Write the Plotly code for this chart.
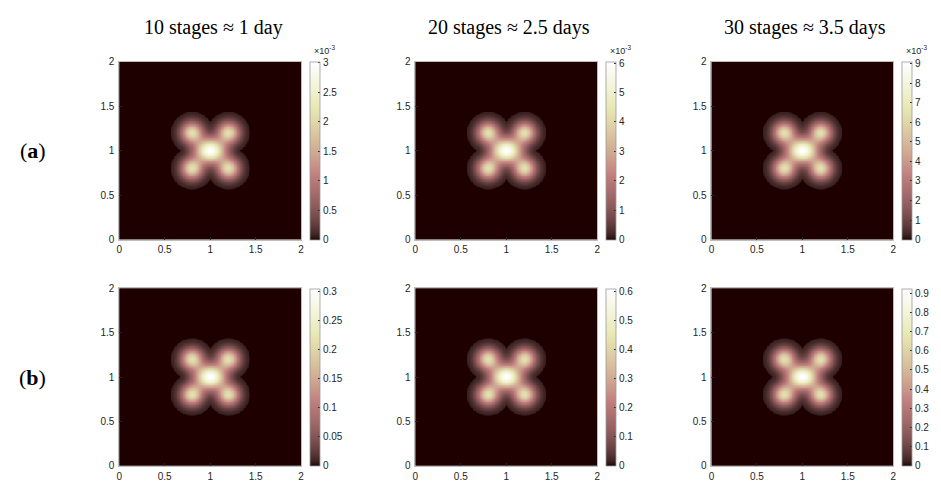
import numpy as np
import plotly.graph_objects as go

# ---------------- data ----------------
titles = ["10 stages \u2248 1 day", "20 stages \u2248 2.5 days", "30 stages \u2248 3.5 days"]
row_labels = ["(<b>a</b>)", "(<b>b</b>)"]
peak_a = [3.02e-3, 6.05e-3, 9.1e-3]
peak_b = [0.305, 0.61, 0.925]
cbar_ticks_a = [[0, 0.5, 1, 1.5, 2, 2.5, 3],
                [0, 1, 2, 3, 4, 5, 6],
                [0, 1, 2, 3, 4, 5, 6, 7, 8, 9]]           # x 10^-3
cbar_ticks_b = [[0, 0.05, 0.1, 0.15, 0.2, 0.25, 0.3],
                [0, 0.1, 0.2, 0.3, 0.4, 0.5, 0.6],
                [0, 0.1, 0.2, 0.3, 0.4, 0.5, 0.6, 0.7, 0.8, 0.9]]
axis_ticks = [0, 0.5, 1, 1.5, 2]
axis_ticktext = ["0", "0.5", "1", "1.5", "2"]
lobe_x = [0.8, 1.2, 0.8, 1.2]
lobe_y = [0.8, 0.8, 1.2, 1.2]
lobe_amp = 0.70
lobe_width = 0.08
lobe_radius = 0.24
core_x, core_y = 1.0, 1.0
core_amp = 1.0
core_wx, core_wy = 0.13, 0.10
core_radius = 0.30
rim_level = 0.012

# ---------------- field on [0,2]^2 ----------------
N = 241
gx = np.linspace(0, 2, N)
gy = np.linspace(0, 2, N)
X, Y = np.meshgrid(gx, gy)
rc = np.hypot(X - core_x, Y - core_y)
inner = core_amp * np.exp(-((X - core_x) ** 2 / (2 * core_wx ** 2) + (Y - core_y) ** 2 / (2 * core_wy ** 2))) \
        * np.clip(1 - (rc / core_radius) ** 2, 0, None)
dist = rc - core_radius
for lx, ly in zip(lobe_x, lobe_y):
    r = np.hypot(X - lx, Y - ly)
    inner = inner + lobe_amp * np.exp(-r ** 2 / (2 * lobe_width ** 2))
    dist = np.minimum(dist, r - lobe_radius)
edge = np.clip(-dist / 0.012, 0, 1)
base = (inner + rim_level) * edge
base = base / base.max()

# ---------------- MATLAB "pink" colormap ----------------
m = 64
n = int(3 / 8 * m)
hr = np.r_[np.arange(1, n + 1) / n, np.ones(m - n)]
hg = np.r_[np.zeros(n), np.arange(1, n + 1) / n, np.ones(m - 2 * n)]
hb = np.r_[np.zeros(2 * n), np.arange(1, m - 2 * n + 1) / (m - 2 * n)]
gray = np.arange(m) / (m - 1)
pink = np.sqrt((2 * gray[:, None] + np.c_[hr, hg, hb]) / 3)
colorscale = [[i / (m - 1), "rgb(%d,%d,%d)" % tuple(np.round(pink[i] * 255))] for i in range(m)]

# ---------------- layout geometry ----------------
W, H = 941, 485
col_px = [(117, 300), (415, 598), (713, 896)]
row_px = [(57, 239.5), (289.5, 471.5)]
cbar_x_px = [309, 607, 905]

fig = go.Figure()
tick_font = dict(family="Liberation Sans, Arial, sans-serif", size=10, color="#262626")

k = 0
for ri, (peaks, cticks) in enumerate([(peak_a, cbar_ticks_a), (peak_b, cbar_ticks_b)]):
    for ci in range(3):
        k += 1
        xa = "x" if k == 1 else "x%d" % k
        ya = "y" if k == 1 else "y%d" % k
        x0, x1 = col_px[ci]
        t0, t1 = row_px[ri]
        ydom = [1 - t1 / H, 1 - t0 / H]
        scale = 1e-3 if ri == 0 else 1.0
        tv = [v * scale for v in cticks[ci]]
        fig.add_trace(go.Heatmap(
            x=gx, y=gy, z=base * peaks[ci],
            xaxis=xa, yaxis=ya,
            colorscale=colorscale, zmin=0, zmax=peaks[ci],
            hoverinfo="skip",
            colorbar=dict(
                x=cbar_x_px[ci] / W, xanchor="left", xref="paper",
                y=(ydom[0] + ydom[1]) / 2, yanchor="middle",
                len=ydom[1] - ydom[0], lenmode="fraction",
                thickness=10, thicknessmode="pixels",
                outlinewidth=0.8, outlinecolor="#9a9a9a",
                tickvals=tv, ticktext=[("%g" % v) for v in cticks[ci]],
                ticks="inside", ticklen=2, tickcolor="#262626",
                tickfont=tick_font, xpad=0, ypad=0,
            ),
        ))
        axkw = dict(range=[0, 2], tickvals=axis_ticks, ticktext=axis_ticktext,
                    showline=True, mirror=True, linecolor="#bdbdbd", linewidth=0.8,
                    ticks="inside", ticklen=3, tickcolor="#262626",
                    showgrid=False, zeroline=False, tickfont=tick_font)
        fig.layout["xaxis" if k == 1 else "xaxis%d" % k] = dict(
            domain=[x0 / W, x1 / W], anchor=ya, ticklabelstandoff=1, **axkw)
        fig.layout["yaxis" if k == 1 else "yaxis%d" % k] = dict(
            domain=ydom, anchor=xa, ticklabelstandoff=2, **axkw)
        if ri == 0:
            fig.add_annotation(
                x=(cbar_x_px[ci] + 2) / W, y=1 - 45 / H, xref="paper", yref="paper",
                text="\u00d710<sup>-3</sup>", showarrow=False, xanchor="left", yanchor="middle",
                font=dict(family="Liberation Sans, Arial, sans-serif", size=9, color="#262626"))

for ci in range(3):
    x0, x1 = col_px[ci]
    fig.add_annotation(x=(x0 + x1) / 2 / W + 3 / W, y=1 - 22 / H, xref="paper", yref="paper",
                       text=titles[ci], showarrow=False, xanchor="center", yanchor="middle",
                       font=dict(family="Liberation Serif, DejaVu Serif, serif", size=20, color="black"))

for ri, lab in enumerate(row_labels):
    t0, t1 = row_px[ri]
    fig.add_annotation(x=30 / W, y=1 - (t0 + t1) / 2 / H, xref="paper", yref="paper",
                       text=lab, showarrow=False, xanchor="center", yanchor="middle",
                       font=dict(family="Liberation Serif, DejaVu Serif, serif", size=22, color="black"))

fig.update_layout(width=W, height=H, margin=dict(l=0, r=0, t=0, b=0),
                  paper_bgcolor="white", plot_bgcolor="white", showlegend=False)
fig.write_html("out.html")
